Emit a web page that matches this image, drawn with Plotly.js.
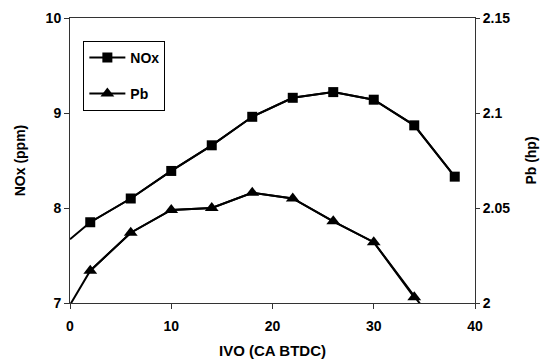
<!DOCTYPE html>
<html>
<head>
<meta charset="utf-8">
<script src="https://cdn.plot.ly/plotly-3.0.1.min.js"></script>
<style>
  html, body { margin: 0; padding: 0; background: #fff; }
  #chart { width: 540px; height: 364px; }
</style>
</head>
<body>
<div id="chart"></div>
<script>
// Inlet valve opening (crank angle before TDC)
const ivo = [2, 6, 10, 14, 18, 22, 26, 30, 34, 38];
const noxPpm = [7.85, 8.10, 8.39, 8.66, 8.96, 9.16, 9.22, 9.14, 8.87, 8.33];

const ivoPb = [2, 6, 10, 14, 18, 22, 26, 30, 34];
const pbHp = [2.017, 2.037, 2.049, 2.050, 2.058, 2.055, 2.043, 2.032, 2.003];

// Connecting lines continue past the measured points to the axes
const noxLineX = [0, 2, 6, 10, 14, 18, 22, 26, 30, 34, 38];
const noxLineY = [7.67, 7.85, 8.10, 8.39, 8.66, 8.96, 9.16, 9.22, 9.14, 8.87, 8.33];
const pbLineX = [0, 2, 6, 10, 14, 18, 22, 26, 30, 34, 35.5];
const pbLineY = [1.999, 2.017, 2.037, 2.049, 2.050, 2.058, 2.055, 2.043, 2.032, 2.003, 1.993];

const xTicks = [0, 10, 20, 30, 40];
const xTickText = ['0', '10', '20', '30', '40'];
const noxTicks = [7, 8, 9, 10];
const noxTickText = ['7', '8', '9', '10'];
const pbTicks = [2, 2.05, 2.1, 2.15];
const pbTickText = ['2', '2.05', '2.1', '2.15'];

const FONT = 'Liberation Sans, Arial, Helvetica, sans-serif';
const bold = (size) => ({ family: FONT, size: size, color: '#000', weight: 'bold' });
const b = (s) => '<b>' + s + '</b>';

const traces = [
  {
    x: noxLineX, y: noxLineY, mode: 'lines', yaxis: 'y',
    line: { color: '#000', width: 2 }, showlegend: false, hoverinfo: 'skip'
  },
  {
    x: pbLineX, y: pbLineY, mode: 'lines', yaxis: 'y2',
    line: { color: '#000', width: 2 }, showlegend: false, hoverinfo: 'skip'
  },
  {
    x: ivo, y: noxPpm, name: b('NOx'), mode: 'lines+markers', yaxis: 'y',
    legendgroup: 'nox',
    line: { color: '#000', width: 2 },
    marker: { symbol: 'square', size: 10, color: '#000' },
    cliponaxis: false
  },
  {
    x: ivoPb, y: pbHp, name: b('Pb'), mode: 'lines+markers', yaxis: 'y2',
    legendgroup: 'pb',
    line: { color: '#000', width: 2 },
    marker: { symbol: 'triangle-up', size: 12, color: '#000' },
    cliponaxis: false
  }
];

const layout = {
  width: 540, height: 364,
  margin: { l: 69.5, r: 65, t: 17.5, b: 60.5 },
  paper_bgcolor: '#fff', plot_bgcolor: '#fff',
  showlegend: true,
  legend: {
    x: 0.033, y: 0.92, xanchor: 'left', yanchor: 'top',
    bgcolor: '#fff', bordercolor: '#000', borderwidth: 1,
    font: bold(14), itemwidth: 36, traceorder: 'grouped', tracegroupgap: 15
  },
  xaxis: {
    range: [0, 40], tickvals: xTicks, ticktext: xTickText.map(b),
    ticks: 'outside', ticklen: 5, tickcolor: '#333',
    showline: true, linecolor: '#333', linewidth: 1, mirror: true,
    showgrid: false, zeroline: false, tickfont: bold(14), ticklabelstandoff: 5,
    title: { text: b('IVO (CA BTDC)'), font: bold(15), standoff: 12 }
  },
  yaxis: {
    range: [7, 10], tickvals: noxTicks, ticktext: noxTickText.map(b),
    ticks: 'outside', ticklen: 5, tickcolor: '#333',
    showline: true, linecolor: '#333', linewidth: 1,
    showgrid: false, zeroline: false, tickfont: bold(14),
    title: { text: b('NOx (ppm)'), font: bold(14), standoff: 16 }
  },
  yaxis2: {
    range: [2, 2.15], tickvals: pbTicks, ticktext: pbTickText.map(b),
    overlaying: 'y', side: 'right',
    ticks: 'outside', ticklen: 4, tickcolor: '#333',
    showline: true, linecolor: '#333', linewidth: 1,
    showgrid: false, zeroline: false, tickfont: bold(14),
    title: { text: b('Pb (hp)'), font: bold(14), standoff: 16 }
  },
  yaxis3: {
    range: [2, 2.15], tickvals: pbTicks, overlaying: 'y', side: 'right', anchor: 'x',
    ticks: 'inside', ticklen: 5, tickcolor: '#333',
    showline: false, showgrid: false, zeroline: false, showticklabels: false
  }
};

Plotly.newPlot('chart', traces, layout, { displayModeBar: false, staticPlot: true });
</script>
</body>
</html>
